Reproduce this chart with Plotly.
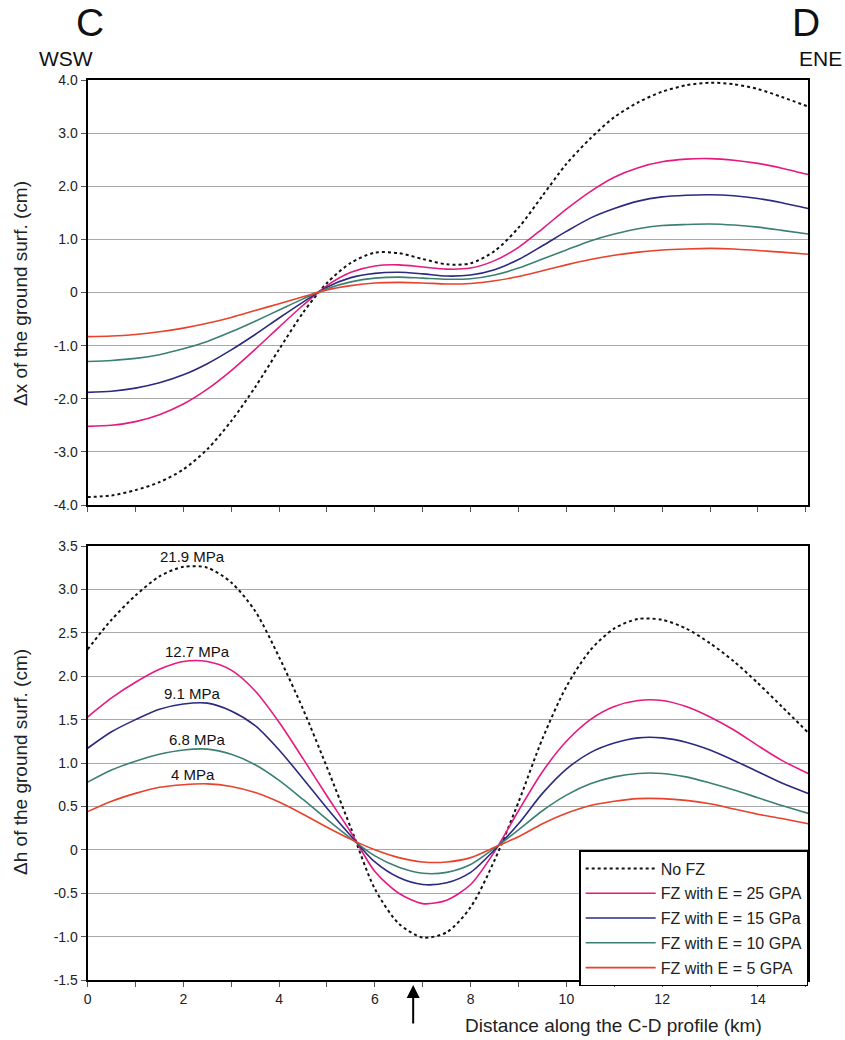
import plotly.graph_objects as go

# ---------------- data ----------------
x_pts = [0, 0.5, 1, 1.5, 2, 2.5, 3, 3.5, 4, 4.5, 5, 5.5, 6, 6.5, 7, 7.5, 8, 8.5, 9, 9.5,
         10, 10.5, 11, 11.5, 12, 12.5, 13, 13.5, 14, 14.5, 15.05]

# top panel: horizontal displacement (cm)
dx_nofz = [-3.85, -3.82, -3.72, -3.57, -3.33, -2.95, -2.42, -1.78, -1.07, -0.38, 0.18, 0.56, 0.75, 0.74, 0.63, 0.53,
           0.55, 0.78, 1.22, 1.82, 2.42, 2.9, 3.3, 3.58, 3.78, 3.9, 3.95, 3.92, 3.83, 3.68, 3.5]
dx_25 = [-2.52, -2.5, -2.43, -2.3, -2.1, -1.82, -1.47, -1.07, -0.65, -0.24, 0.13, 0.38, 0.5, 0.52, 0.48, 0.44,
         0.46, 0.6, 0.85, 1.2, 1.57, 1.9, 2.17, 2.35, 2.46, 2.51, 2.52, 2.49, 2.43, 2.34, 2.22]
dx_15 = [-1.88, -1.86, -1.8, -1.7, -1.55, -1.34, -1.08, -0.79, -0.48, -0.18, 0.1, 0.28, 0.36, 0.38, 0.35, 0.31,
         0.33, 0.43, 0.62, 0.88, 1.15, 1.4, 1.58, 1.72, 1.8, 1.83, 1.84, 1.82, 1.77, 1.69, 1.58]
dx_10 = [-1.3, -1.28, -1.24, -1.17, -1.06, -0.92, -0.74, -0.54, -0.33, -0.12, 0.07, 0.2, 0.27, 0.29, 0.27, 0.25,
         0.26, 0.33, 0.46, 0.63, 0.8, 0.97, 1.1, 1.2, 1.26, 1.28, 1.29, 1.27, 1.23, 1.17, 1.1]
dx_5 = [-0.83, -0.82, -0.79, -0.74, -0.67, -0.58, -0.47, -0.34, -0.21, -0.08, 0.05, 0.13, 0.18, 0.19, 0.18, 0.16,
        0.17, 0.22, 0.3, 0.41, 0.52, 0.62, 0.7, 0.76, 0.8, 0.82, 0.83, 0.82, 0.79, 0.76, 0.72]

# bottom panel: vertical displacement (cm)
dh_nofz = [2.31, 2.65, 2.93, 3.15, 3.26, 3.25, 3.08, 2.75, 2.22, 1.62, 0.95, 0.25, -0.45, -0.85, -1.01, -0.95,
           -0.66, -0.12, 0.55, 1.28, 1.88, 2.3, 2.55, 2.66, 2.65, 2.55, 2.38, 2.17, 1.92, 1.65, 1.35]
dh_25 = [1.53, 1.75, 1.93, 2.08, 2.17, 2.17, 2.07, 1.83, 1.47, 1.05, 0.62, 0.2, -0.25, -0.5, -0.62, -0.58,
         -0.4, -0.02, 0.45, 0.9, 1.25, 1.5, 1.65, 1.72, 1.72, 1.65, 1.53, 1.38, 1.2, 1.03, 0.88]
dh_15 = [1.17, 1.36, 1.5, 1.62, 1.68, 1.69, 1.6, 1.43, 1.15, 0.82, 0.48, 0.16, -0.14, -0.32, -0.4, -0.38,
         -0.26, 0.0, 0.3, 0.65, 0.93, 1.12, 1.23, 1.29, 1.29, 1.24, 1.15, 1.03, 0.9, 0.77, 0.65]
dh_10 = [0.78, 0.92, 1.02, 1.1, 1.15, 1.16, 1.1, 0.98, 0.8, 0.58, 0.35, 0.13, -0.07, -0.2, -0.27, -0.26,
         -0.17, 0.02, 0.23, 0.45, 0.63, 0.76, 0.84, 0.88, 0.88, 0.84, 0.77, 0.69, 0.6, 0.51, 0.42]
dh_5 = [0.44, 0.56, 0.65, 0.72, 0.75, 0.76, 0.73, 0.66, 0.55, 0.41, 0.26, 0.12, 0.0, -0.09, -0.14, -0.14,
        -0.09, 0.03, 0.15, 0.3, 0.42, 0.51, 0.56, 0.59, 0.59, 0.57, 0.53, 0.47, 0.41, 0.36, 0.3]

series_names = ["No FZ", "FZ with E = 25 GPA", "FZ with E = 15 GPa", "FZ with E = 10 GPA", "FZ with E = 5 GPA"]
colors = ["#111111", "#e5197f", "#2b2a80", "#3b8072", "#e8412c"]
dashes = ["dot", "solid", "solid", "solid", "solid"]

stress_labels = ["21.9 MPa", "12.7 MPa", "9.1 MPa", "6.8 MPa", "4 MPa"]
stress_x = [2.2, 2.3, 2.2, 2.3, 2.2]
stress_y = [3.27, 2.18, 1.69, 1.16, 0.76]

top_ticks = [-4, -3, -2, -1, 0, 1, 2, 3, 4]
top_ticktext = ["-4.0", "-3.0", "-2.0", "-1.0", "0", "1.0", "2.0", "3.0", "4.0"]
bot_ticks = [-1.5, -1.0, -0.5, 0, 0.5, 1.0, 1.5, 2.0, 2.5, 3.0, 3.5]
bot_ticktext = ["-1.5", "-1.0", "-0.5", "0", "0.5", "1.0", "1.5", "2.0", "2.5", "3.0", "3.5"]
x_ticks = list(range(0, 16))
x_ticktext = [str(v) if v % 2 == 0 else "" for v in x_ticks]
arrow_x = 6.8

W, H = 845, 1040
FONT = "Liberation Sans, Arial, sans-serif"


def Y(px):
    """target pixel row (from top) -> paper fraction"""
    return 1 - ((px - 8) / 0.9846) / H


def X(px):
    return px / W


fig = go.Figure()

top_series = [dx_nofz, dx_25, dx_15, dx_10, dx_5]
bot_series = [dh_nofz, dh_25, dh_15, dh_10, dh_5]

for i, ys in enumerate(top_series):
    fig.add_trace(go.Scatter(
        x=x_pts, y=ys, mode="lines", xaxis="x", yaxis="y",
        line=dict(color=colors[i], width=1.6 if i else 2.0, dash=dashes[i], shape="spline", smoothing=0.8),
        showlegend=False, hoverinfo="skip"))

for i, ys in enumerate(bot_series):
    fig.add_trace(go.Scatter(
        x=x_pts, y=ys, mode="lines", xaxis="x2", yaxis="y2", name=series_names[i],
        legendgroup=f"g{i}",
        line=dict(color=colors[i], width=1.6 if i else 2.0, dash=dashes[i], shape="spline", smoothing=0.8),
        showlegend=True, hoverinfo="skip"))

xd = [X(84), X(808)]
axis_common = dict(showline=True, linecolor="black", linewidth=2, mirror=True,
                   zeroline=False, ticks="outside", ticklen=5, tickcolor="#555",
                   tickfont=dict(family=FONT, size=14, color="#222"))

fig.update_layout(
    width=W, height=H,
    margin=dict(l=0, r=0, t=0, b=0),
    paper_bgcolor="white", plot_bgcolor="white",
    font=dict(family=FONT, color="#222"),
    xaxis=dict(domain=xd, range=[0, 15.05], tickvals=x_ticks, ticktext=[""] * len(x_ticks),
               showgrid=False, anchor="y", **axis_common),
    yaxis=dict(domain=[Y(505), Y(80)], range=[-4, 4], tickvals=top_ticks, ticktext=top_ticktext,
               showgrid=True, gridcolor="#a8a8a8", gridwidth=1, anchor="x", **axis_common),
    xaxis2=dict(domain=xd, range=[0, 15.05], tickvals=x_ticks, ticktext=x_ticktext,
                showgrid=False, anchor="y2", **axis_common),
    yaxis2=dict(domain=[Y(980), Y(546)], range=[-1.5, 3.5], tickvals=bot_ticks, ticktext=bot_ticktext,
                showgrid=True, gridcolor="#a8a8a8", gridwidth=1, anchor="x2", **axis_common),
    legend=dict(x=X(808), y=Y(850), xanchor="right", yanchor="top",
                bgcolor="white", bordercolor="black", borderwidth=1.5,
                font=dict(family=FONT, size=16, color="#222"),
                traceorder="grouped", tracegroupgap=1, itemwidth=70),
)

# stress labels
for lab, sx, sy in zip(stress_labels, stress_x, stress_y):
    fig.add_annotation(x=sx, y=sy, xref="x2", yref="y2", text=lab, showarrow=False,
                       xanchor="center", yanchor="bottom", yshift=-1,
                       font=dict(family=FONT, size=15, color="#111"))

# headers
fig.add_annotation(x=X(86), y=Y(22), xref="paper", yref="paper", text="C", showarrow=False,
                   font=dict(family=FONT, size=39, color="#111"), xanchor="center", yanchor="middle")
fig.add_annotation(x=X(62), y=Y(58), xref="paper", yref="paper", text="WSW", showarrow=False,
                   font=dict(family=FONT, size=21, color="#111"), xanchor="center", yanchor="middle")
fig.add_annotation(x=X(806), y=Y(22), xref="paper", yref="paper", text="D", showarrow=False,
                   font=dict(family=FONT, size=39, color="#111"), xanchor="center", yanchor="middle")
fig.add_annotation(x=X(820), y=Y(58), xref="paper", yref="paper", text="ENE", showarrow=False,
                   font=dict(family=FONT, size=21, color="#111"), xanchor="center", yanchor="middle")

# axis titles
fig.add_annotation(x=X(16), y=Y(293), xref="paper", yref="paper", text="Δx of the ground surf. (cm)",
                   showarrow=False, textangle=-90, xanchor="center", yanchor="middle",
                   font=dict(family=FONT, size=19, color="#222"))
fig.add_annotation(x=X(16), y=Y(762), xref="paper", yref="paper", text="Δh of the ground surf. (cm)",
                   showarrow=False, textangle=-90, xanchor="center", yanchor="middle",
                   font=dict(family=FONT, size=19, color="#222"))
fig.add_annotation(x=X(612), y=Y(1025), xref="paper", yref="paper",
                   text="Distance along the C-D profile (km)", showarrow=False,
                   xanchor="center", yanchor="middle",
                   font=dict(family=FONT, size=19, color="#222"))

# arrow
fig.add_annotation(x=arrow_x, y=Y(985), xref="x2", yref="paper", ax=0, ay=40, axref="pixel", ayref="pixel",
                   text="", showarrow=True, arrowhead=2, arrowsize=1.3, arrowwidth=2, arrowcolor="black")

fig.write_html("out.html")
